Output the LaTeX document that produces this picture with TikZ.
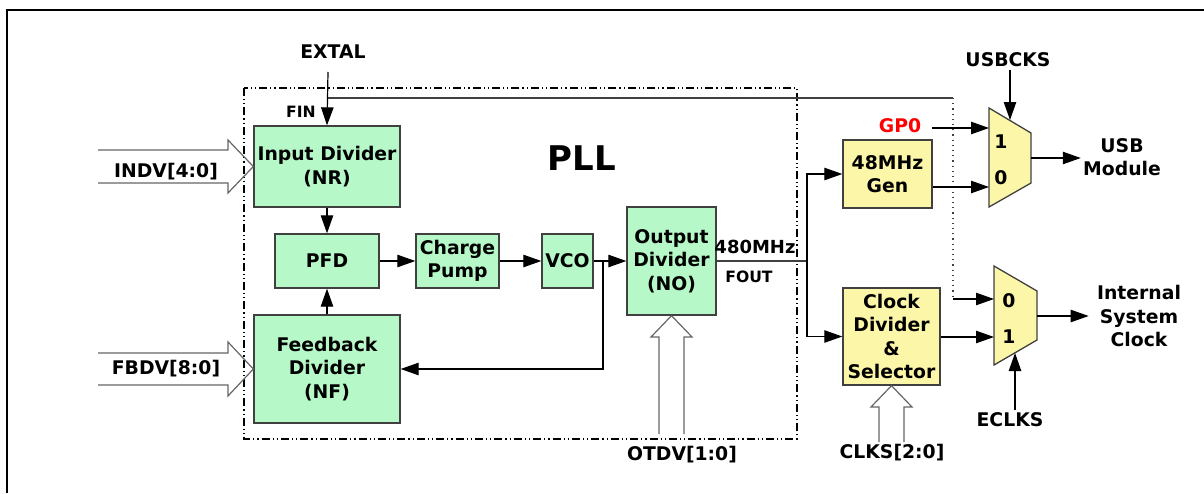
\documentclass[tikz,border=0pt]{standalone}
\usepackage{fontspec}
\setmainfont{DejaVu Sans}
\usetikzlibrary{arrows.meta}

\definecolor{pllgreen}{RGB}{183,248,200}
\definecolor{clkyellow}{RGB}{252,246,168}
\definecolor{boxgray}{RGB}{64,64,64}

\tikzset{
    lbl/.style={font=\fontsize{9.4}{11.8}\selectfont\bfseries,align=center,inner sep=1pt},
    small/.style={font=\fontsize{7.8}{9}\selectfont\bfseries,inner sep=1pt},
    blk/.style={lbl,draw=boxgray,line width=0.65pt,inner sep=0pt},
    pllblk/.style={blk,fill=pllgreen},
    clkblk/.style={blk,fill=clkyellow},
    sig/.style={line width=0.6pt,-{Triangle[length=9pt,width=6.2pt]}},
    wire/.style={line width=0.6pt,draw=boxgray},
    bus/.style={line width=0.6pt,draw=black!60,line join=miter},
    pllframe/.style={line width=0.6pt,dash pattern=on 4pt off 1.5pt on 0.6pt off 1.5pt on 0.6pt off 1.5pt},
}

\begin{document}
\begin{tikzpicture}[x=0.5pt,y=-0.5pt]
    \useasboundingbox (0,0) rectangle (1204,493);
    \draw [line width=1pt] (7,493) -- (7,10) -- (1204,10);

    % PLL
    \draw [pllframe] (244,88) rectangle (797,439);
    \node [font=\fontsize{17}{20}\selectfont\bfseries] (pll) at (582,158) {PLL};

    \node [pllblk,minimum width=73pt,minimum height=40.5pt] (nr) at (327,166.5) {Input Divider\\(NR)};
    \node [pllblk,minimum width=52pt,minimum height=27pt] (pfd) at (327,261) {PFD};
    \node [pllblk,minimum width=73pt,minimum height=54pt] (nf) at (327,369) {Feedback\\Divider\\(NF)};
    \node [pllblk,minimum width=41.5pt,minimum height=27pt] (cp) at (457.5,261) {Charge\\Pump};
    \node [pllblk,minimum width=25.5pt,minimum height=27pt] (vco) at (567.5,261) {VCO};
    \node [pllblk,minimum width=44.5pt,minimum height=54pt] (no) at (671.5,261) {Output\\Divider\\(NO)};

    \node [lbl] (extal) at (333,52) {EXTAL};
    \node [small] (fin) at (301,112) {FIN};
    \node [lbl,font=\fontsize{9}{11}\selectfont\bfseries] (mhz) at (755,247) {480MHz};
    \node [small] (fout) at (749,277) {FOUT};

    \coordinate (xin) at (328,72);
    \coordinate (xtap) at (328,98);
    \coordinate (fbtap) at (603,261);
    \draw [sig] (xin) -- (nr.north);
    \draw [sig] (nr.south) -- (pfd.north);
    \draw [sig] (nf.north) -- (pfd.south);
    \draw [sig] (pfd.east) -- (cp.west);
    \draw [sig] (cp.east) -- (vco.west);
    \draw [sig] (vco.east) -- (no.west);
    \draw [sig] (fbtap) |- (nf.east);

    % divider settings
    \node [lbl] (indv) at (166,172) {INDV[4:0]};
    \node [lbl] (fbdv) at (166,369) {FBDV[8:0]};
    \node [lbl] (otdv) at (682,455) {OTDV[1:0]};
    \draw [bus] (98,150) -- (228,150) -- (228,140) -- (nr.west) -- (228,193) -- (228,183) -- (98,183);
    \draw [bus] (98,353) -- (228,353) -- (228,342) -- (nf.west) -- (228,396) -- (228,385) -- (98,385);
    \draw [bus] (659,434) -- (659,337) -- (651,337) -- (no.south) -- (692,337) -- (684,337) -- (684,434);

    % clock blocks
    \node [clkblk,minimum width=44.5pt,minimum height=34pt] (gen) at (887.5,174) {48MHz\\Gen};
    \node [clkblk,minimum width=48.5pt,minimum height=48.5pt] (cds) at (891.5,336.5) {Clock\\Divider\\\&\\Selector};

    \coordinate (split) at (807,261);
    \draw [wire] (no.east) -- (split);
    \draw [sig] (split) |- (gen.west);
    \draw [sig] (split) |- (cds.west);

    \node [lbl] (clks) at (892,453) {CLKS[2:0]};
    \draw [bus] (879,442) -- (879,407) -- (871,407) -- (cds.south) -- (912,407) -- (904,407) -- (904,442);

    % muxes
    \draw [draw=boxgray,line width=0.65pt,fill=clkyellow] (989,108) -- (1031,133) -- (1031,183) -- (989,207) -- cycle;
    \draw [draw=boxgray,line width=0.65pt,fill=clkyellow] (994,266) -- (1037,291) -- (1037,340) -- (994,365) -- cycle;
    \node [lbl] at (1001,142) {1};
    \node [lbl] at (1001,178) {0};
    \node [lbl] at (1009,301) {0};
    \node [lbl] at (1009,337) {1};

    \coordinate (usbin1) at (989,128);
    \coordinate (usbin0) at (989,187);
    \coordinate (usbsel) at (1010,120);
    \coordinate (usbout) at (1031,158);
    \coordinate (sysin0) at (994,299);
    \coordinate (sysin1) at (994,337);
    \coordinate (syssel) at (1015,353);
    \coordinate (sysout) at (1037,316);
    \coordinate (fbcorner) at (953,98);
    \coordinate (fbdrop) at (953,299);

    \node [lbl,text=red] (gp) at (900,126) {GP0};
    \node [lbl] (usbcks) at (1008,60) {USBCKS};
    \node [lbl] (usb) at (1122,157) {USB\\Module};
    \node [lbl] (sysclk) at (1139,316) {Internal\\System\\Clock};
    \node [lbl] (eclks) at (1010,420) {ECLKS};

    \draw [wire] (xtap) -- (fbcorner);
    \draw [line width=0.6pt,draw=boxgray,dotted] (fbcorner) -- (fbdrop);
    \draw [sig] (fbdrop) -- (sysin0);
    \draw [sig] ([xshift=4pt]gp.east |- usbin1) -- (usbin1);
    \draw [sig] (gen.east |- usbin0) -- (usbin0);
    \draw [sig] (usbcks.south -| usbsel) -- (usbsel);
    \draw [sig] (usbout) -- (usb.west |- usbout);
    \draw [sig] (cds.east |- sysin1) -- (sysin1);
    \draw [sig] (sysout) -- ([xshift=-3pt]sysclk.west);
    \draw [sig] (eclks.north -| syssel) -- (syssel);
\end{tikzpicture}
\end{document}
